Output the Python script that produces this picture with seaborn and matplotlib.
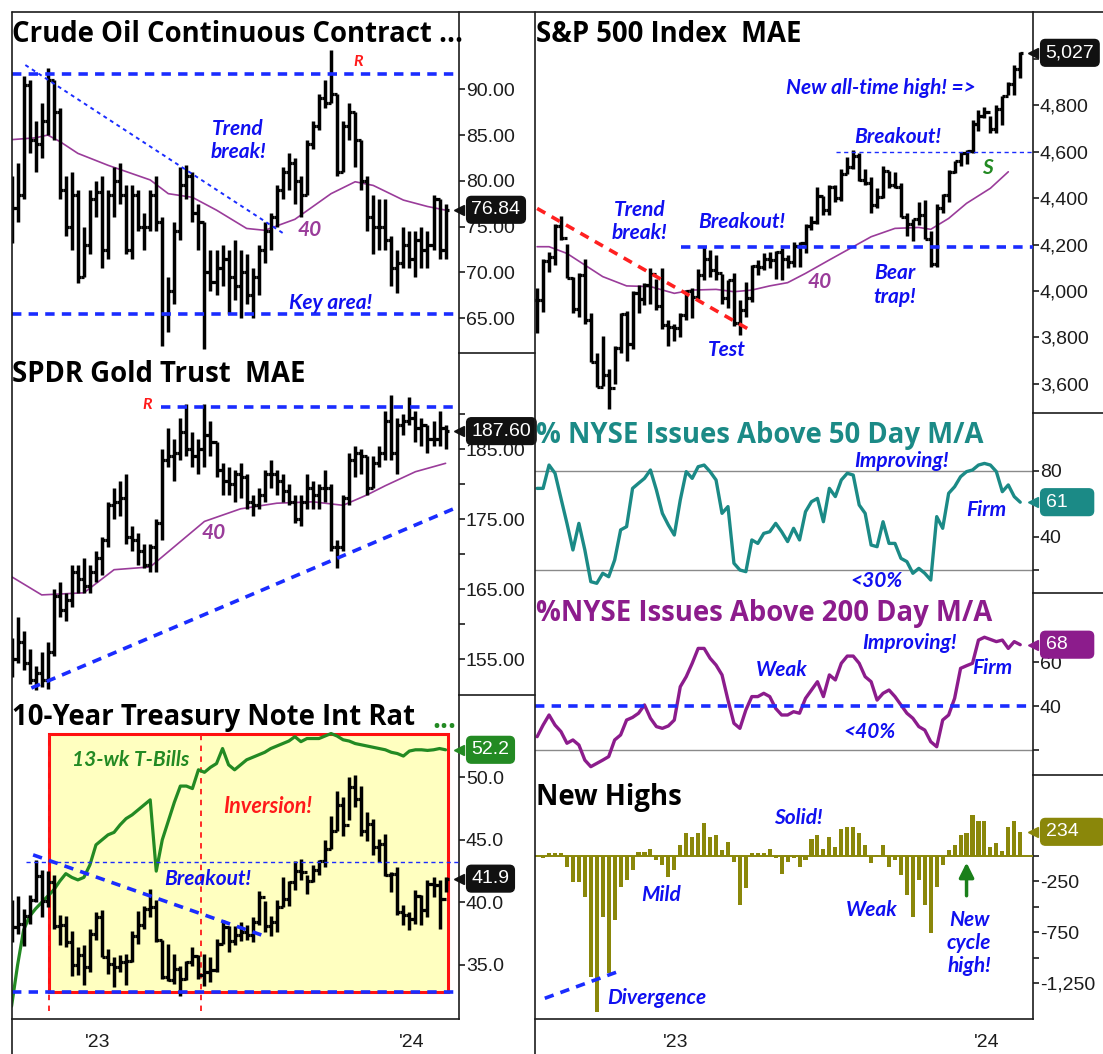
import numpy as np
import pandas as pd
import matplotlib
matplotlib.use("Agg")
import matplotlib.pyplot as plt
import matplotlib.dates as mdates
from matplotlib.lines import Line2D
from matplotlib.patches import Rectangle
import seaborn as sns

# ---------------- data (weekly) ----------------
left_weeks = pd.date_range("2022-09-23", "2024-02-09", freq="W-FRI")    # 73 weeks
right_weeks = pd.date_range("2022-07-22", "2024-02-09", freq="W-FRI")   # 82 weeks

crude_high = [80.5, 82.0, 91.5, 91.0, 86.5, 88.5, 92.3, 91.0, 88.0, 80.5,
              81.0, 79.0, 75.0, 79.0, 80.0, 80.5, 79.0, 81.5, 82.0, 79.5,
              79.5, 79.0, 76.5, 79.0, 80.5, 76.0, 69.5, 75.5, 81.5, 81.7,
              81.0, 77.5, 75.5, 72.5, 72.5, 73.0, 72.5, 73.5, 72.5, 72.0,
              70.5, 73.0, 75.5, 76.5, 79.5, 81.5, 83.0, 82.5, 80.5, 84.5,
              86.5, 89.5, 91.0, 94.3, 89.5, 86.5, 88.5, 87.5, 84.5, 80.5,
              78.5, 78.0, 78.0, 74.0, 72.5, 75.0, 74.5, 74.5, 75.0, 74.5,
              78.5, 78.0, 77.5]
crude_low = [73.2, 75.5, 78.0, 83.0, 81.0, 82.5, 85.0, 84.5, 78.0, 74.0,
             72.5, 68.8, 69.5, 72.0, 76.0, 70.5, 71.5, 76.0, 77.5, 72.0,
             71.5, 74.5, 72.5, 74.5, 74.5, 62.0, 63.5, 66.5, 73.5, 78.0,
             75.5, 72.5, 61.6, 68.0, 67.5, 68.5, 65.5, 67.0, 65.0, 66.5,
             65.0, 67.5, 71.0, 72.5, 75.0, 78.0, 79.0, 77.5, 76.0, 78.5,
             83.5, 85.5, 88.0, 88.5, 80.5, 81.0, 84.5, 81.5, 79.0, 74.5,
             72.0, 72.5, 72.5, 68.5, 67.7, 70.5, 70.5, 69.5, 70.5, 70.5,
             72.5, 71.5, 71.5]
crude_close = [77.0, 78.5, 90.5, 84.5, 84.0, 86.5, 91.0, 87.5, 79.0, 75.0,
               78.5, 69.5, 73.0, 78.0, 78.8, 72.5, 78.5, 80.0, 78.5, 72.5,
               78.5, 75.0, 75.0, 78.5, 75.5, 65.5, 68.0, 74.5, 79.5, 80.5,
               76.5, 75.5, 70.0, 69.0, 70.5, 71.5, 69.5, 68.5, 70.0, 67.5,
               69.5, 72.5, 74.5, 76.0, 79.0, 81.0, 82.0, 80.0, 78.5, 84.0,
               86.0, 89.0, 88.5, 89.5, 81.0, 86.0, 87.5, 84.5, 80.0, 76.0,
               75.0, 75.0, 73.5, 70.5, 71.0, 73.0, 71.5, 73.5, 72.5, 73.0,
               78.0, 72.5, 76.84]
crude_ma_week = [0, 4, 6, 8, 11, 16, 23, 26, 30, 34, 39, 42, 47, 53, 57, 60, 65, 69, 72]
crude_ma = [84.5, 84.7, 85.0, 84.3, 83.0, 81.7, 80.1, 78.6, 78.2, 76.8,
            74.8, 74.6, 75.8, 78.6, 79.9, 79.5, 77.9, 77.2, 76.8]

gold_high = [158.0, 161.0, 159.0, 156.5, 154.0, 156.0, 157.5, 165.0, 166.0, 164.5,
             168.5, 168.5, 169.5, 168.5, 170.5, 172.5, 177.5, 179.5, 180.5, 181.5,
             174.0, 173.0, 171.5, 171.5, 175.0, 185.0, 188.0, 186.5, 189.5, 191.5,
             187.5, 186.5, 191.5, 189.0, 186.0, 183.0, 182.5, 182.0, 183.0, 181.5,
             178.5, 179.5, 182.0, 183.5, 182.0, 181.5, 180.0, 178.5, 178.5, 181.5,
             180.5, 180.0, 182.0, 180.0, 172.0, 178.5, 184.5, 185.5, 185.0, 184.0,
             184.0, 185.5, 190.5, 192.8, 189.5, 190.0, 192.5, 190.5, 189.5, 188.5,
             189.0, 190.5, 188.5]
gold_low = [152.5, 154.5, 153.5, 151.5, 150.6, 151.0, 150.8, 155.5, 161.0, 160.5,
            162.5, 164.5, 164.5, 164.5, 166.0, 167.0, 171.0, 175.0, 175.5, 171.5,
            170.5, 168.5, 168.0, 167.5, 167.5, 172.0, 182.5, 180.5, 183.5, 184.0,
            182.5, 181.5, 182.5, 184.0, 181.0, 178.5, 178.5, 177.5, 178.0, 176.5,
            175.5, 176.5, 177.5, 179.5, 178.5, 177.5, 177.0, 174.5, 174.0, 176.5,
            176.5, 176.5, 177.5, 170.5, 168.0, 170.5, 177.0, 181.0, 181.5, 178.5,
            179.5, 182.5, 183.5, 183.5, 181.5, 187.0, 188.5, 186.0, 185.5, 184.5,
            185.5, 185.5, 185.0]
gold_close = [155.0, 157.5, 154.5, 152.0, 153.0, 152.0, 156.0, 164.0, 162.0, 163.5,
              167.5, 166.5, 165.5, 167.5, 169.5, 172.0, 177.0, 177.5, 178.0, 172.5,
              172.0, 170.5, 168.5, 171.0, 174.5, 183.5, 184.0, 184.5, 187.5, 185.0,
              184.0, 185.0, 187.0, 186.0, 182.0, 180.5, 180.0, 181.5, 181.0, 177.5,
              177.0, 178.5, 181.5, 181.5, 180.5, 179.0, 177.5, 175.0, 177.5, 179.5,
              178.5, 179.5, 179.5, 171.0, 171.0, 178.0, 183.5, 184.5, 184.0, 179.5,
              183.0, 184.5, 189.0, 184.5, 188.5, 189.0, 189.5, 188.0, 188.5, 186.5,
              186.5, 188.0, 187.6]
gold_ma_week = [0, 5, 12, 17, 23, 32, 38, 44, 50, 55, 59, 62, 67, 72]
gold_ma = [166.8, 164.2, 164.5, 167.8, 168.2, 174.7, 176.5, 177.3, 177.5, 177.0,
           178.5, 179.8, 181.8, 183.0]

tnx_high = [40.2, 40.5, 39.5, 40.6, 43.4, 42.6, 42.5, 42.2, 39.0, 38.9,
            37.7, 36.4, 36.6, 37.9, 39.2, 39.4, 36.3, 35.6, 35.8, 35.9,
            37.7, 39.3, 39.7, 41.1, 40.2, 37.0, 36.7, 35.9, 34.9, 35.3,
            36.4, 35.8, 35.9, 35.6, 37.1, 38.6, 38.1, 38.1, 38.4, 38.2,
            38.8, 40.9, 40.1, 38.9, 40.2, 42.0, 41.7, 43.3, 43.5, 42.2,
            43.0, 43.4, 45.0, 46.9, 48.9, 48.4, 50.0, 50.2, 49.3, 47.2,
            46.7, 45.1, 45.5, 42.4, 42.8, 39.8, 39.2, 41.0, 40.6, 41.8,
            42.0, 41.8, 42.0]
tnx_low = [36.8, 37.5, 36.5, 38.3, 40.0, 38.8, 39.6, 37.9, 36.6, 36.4,
           34.1, 34.2, 33.4, 34.4, 37.0, 35.6, 34.3, 33.2, 34.4, 33.4,
           35.2, 36.7, 37.9, 38.8, 36.8, 33.9, 33.7, 33.5, 32.5, 33.8,
           34.9, 33.9, 33.3, 33.6, 34.4, 36.7, 36.0, 36.6, 36.9, 37.0,
           36.8, 38.2, 37.6, 37.3, 37.6, 39.6, 39.7, 41.0, 41.8, 40.7,
           41.6, 42.2, 42.8, 44.3, 45.7, 45.3, 46.6, 47.6, 45.3, 44.9,
           43.8, 43.2, 42.1, 40.8, 39.0, 38.2, 37.8, 38.3, 38.2, 38.8,
           40.4, 37.9, 40.8]
tnx_close = [38.0, 38.3, 38.9, 40.2, 42.1, 40.1, 41.6, 38.1, 38.2, 36.8,
             35.0, 35.8, 34.8, 37.5, 38.8, 35.6, 35.1, 34.8, 35.2, 35.3,
             37.3, 38.2, 39.5, 39.6, 37.0, 34.0, 33.8, 34.7, 33.9, 35.2,
             35.7, 34.2, 34.4, 34.6, 36.7, 38.0, 36.9, 37.4, 37.6, 37.4,
             38.4, 40.4, 38.1, 38.4, 39.6, 40.3, 41.6, 42.5, 42.4, 41.7,
             42.6, 43.3, 44.3, 45.7, 47.8, 46.2, 49.2, 48.3, 45.7, 46.3,
             44.4, 44.7, 42.2, 42.3, 39.2, 39.0, 38.7, 40.5, 39.4, 41.5,
             41.4, 40.3, 41.9]
tbill = [31.7, 35.0, 37.8, 38.9, 39.5, 40.0, 40.5, 41.0, 41.7, 42.3,
         42.0, 41.8, 42.0, 43.0, 44.6, 45.0, 45.4, 45.6, 46.2, 46.7,
         47.0, 47.4, 47.8, 48.2, 42.5, 45.0, 46.5, 48.0, 49.3, 49.3,
         49.1, 50.6, 50.4, 50.8, 51.1, 52.3, 51.0, 50.6, 51.0, 51.4,
         51.6, 51.8, 52.0, 52.3, 52.5, 52.7, 52.9, 53.25, 52.85, 53.1,
         53.1, 53.1, 53.3, 53.5, 53.3, 53.0, 52.9, 52.7, 52.6, 52.5,
         52.4, 52.3, 52.2, 52.0, 51.9, 51.7, 52.1, 52.2, 52.2, 52.15,
         52.2, 52.3, 52.2]

sp_high = [4012, 4140, 4167, 4288, 4325, 4203, 4062, 4077, 4140, 3906,
           3733, 3806, 3665, 3762, 3905, 3912, 4001, 4028, 4034, 4101,
           4052, 4101, 3877, 3859, 3906, 4004, 4015, 4095, 4195, 4176,
           4156, 4075, 4048, 4079, 3963, 4040, 4110, 4133, 4163, 4170,
           4171, 4186, 4155, 4213, 4213, 4291, 4323, 4448, 4409, 4458,
           4456, 4528, 4578, 4607, 4594, 4528, 4490, 4443, 4541, 4518,
           4511, 4467, 4338, 4311, 4385, 4393, 4259, 4374, 4418, 4520,
           4560, 4599, 4609, 4739, 4779, 4793, 4754, 4802, 4842, 4903,
           4975, 5030]
sp_low = [3819, 3911, 4080, 4112, 4218, 4057, 3907, 3886, 3856, 3693,
          3584, 3591, 3491, 3600, 3733, 3698, 3751, 3906, 3938, 3943,
          3919, 3838, 3764, 3783, 3802, 3877, 3885, 3966, 4049, 4061,
          4048, 3944, 3928, 3847, 3809, 3889, 3951, 4069, 4090, 4098,
          4053, 4048, 4098, 4103, 4103, 4166, 4262, 4291, 4329, 4328,
          4385, 4389, 4503, 4527, 4474, 4456, 4335, 4356, 4403, 4444,
          4446, 4317, 4238, 4216, 4284, 4223, 4104, 4103, 4337, 4385,
          4509, 4537, 4546, 4593, 4688, 4746, 4682, 4683, 4714, 4845,
          4845, 4919]
sp_close = [3962, 4130, 4145, 4280, 4228, 4058, 3924, 4067, 3873, 3693,
            3586, 3640, 3583, 3753, 3901, 3771, 3993, 3965, 4026, 4072,
            3934, 3852, 3845, 3840, 3895, 3999, 3973, 4071, 4136, 4090,
            4079, 3970, 4046, 3862, 3917, 3971, 4109, 4105, 4138, 4134,
            4169, 4136, 4124, 4192, 4205, 4282, 4299, 4410, 4348, 4450,
            4399, 4505, 4536, 4582, 4478, 4464, 4370, 4406, 4516, 4458,
            4450, 4320, 4288, 4309, 4328, 4224, 4117, 4358, 4415, 4514,
            4559, 4595, 4604, 4719, 4755, 4770, 4697, 4784, 4840, 4891,
            4959, 5027]
sp_ma_week = [0, 2, 5, 8, 11, 15, 19, 23, 26, 30, 33, 36, 39, 42, 45, 49, 53,
              56, 60, 64, 66, 69, 72, 76, 79]
sp_ma = [4191, 4191, 4162, 4112, 4062, 4022, 4019, 3990, 4004, 4007, 3997, 4004,
         4022, 4036, 4076, 4134, 4191, 4234, 4270, 4274, 4266, 4313, 4378, 4443, 4514]

nyse50 = [69.4, 69.4, 83.6, 78.6, 63.3, 48.1, 31.9, 48.1, 31.9, 12.6,
          11.6, 17.7, 15.6, 25.8, 44.1, 46.1, 69.4, 72.5, 75.5, 80.6,
          68.4, 54.2, 47.1, 41.0, 62.3, 79.6, 75.5, 82.6, 83.6, 79.6,
          74.5, 54.2, 58.3, 23.8, 19.7, 18.7, 38.0, 35.9, 42.0, 43.0,
          48.1, 43.0, 37.0, 45.1, 38.0, 55.2, 61.3, 63.3, 49.1, 69.4,
          64.4, 74.5, 78.6, 77.5, 59.3, 54.2, 34.9, 33.9, 49.1, 35.9,
          35.9, 26.8, 24.8, 17.7, 20.7, 17.7, 13.6, 52.2, 45.1, 66.4,
          70.4, 76.5, 79.6, 80.6, 83.6, 84.6, 83.6, 79.6, 67.4, 71.5,
          64.4, 61.0]
nyse200 = [26.0, 31.3, 35.9, 31.3, 28.3, 23.0, 24.5, 22.2, 15.3, 12.3,
           13.8, 15.3, 16.9, 24.5, 26.8, 33.6, 34.8, 36.7, 40.5, 34.4,
           30.6, 29.8, 30.9, 33.6, 48.8, 53.4, 59.5, 66.3, 66.3, 61.8,
           58.7, 54.2, 42.7, 32.1, 29.8, 38.2, 44.3, 44.3, 45.8, 44.3,
           38.9, 35.9, 35.9, 37.4, 36.7, 43.5, 47.3, 51.1, 44.3, 54.2,
           51.9, 59.5, 62.8, 62.8, 59.5, 53.4, 51.1, 42.7, 45.8, 47.3,
           44.3, 40.5, 36.7, 34.4, 30.6, 29.0, 23.7, 21.4, 33.6, 35.9,
           43.5, 57.2, 58.4, 59.5, 70.1, 71.4, 70.4, 69.4, 70.1, 66.3,
           69.4, 68.0]
new_highs = [-26, 23, 23, 23, -108, -255, -255, -402, -1186, -1529,
             -598, -1153, -630, -304, -238, -140, 40, 40, 62, -42,
             -91, -206, -140, 105, 219, 187, 219, 317, 187, 203,
             56, 138, -59, -483, -320, 23, 23, 23, 62, -26,
             -183, -59, -26, -108, -42, 160, 203, 62, 187, 89,
             259, 278, 278, 219, 105, -68, 5, 105, -108, -42,
             -190, -385, -598, -238, -483, -755, -304, -91, 56, 105,
             203, 219, 399, 343, 343, 89, 128, 49, 285, 343,
             234]

# ---------------- style ----------------
sns.set_style("white")
plt.rcParams["font.family"] = ["Liberation Sans", "DejaVu Sans"]

BLUE = "#1010f0"
DASH_BLUE = "#1a2cff"
RED = "#ff1a1a"
PURPLE_MA = "#9a3c9a"
TEAL = "#1b8a86"
PURPLE = "#8c1c8c"
OLIVE = "#8a870a"
GREEN = "#238a23"
INK = "#1c1c1c"
TITLE_FONT = ["Open Sans", "DejaVu Sans"]
TITLE_SIZE = 19.8

W, H = 1103, 1054
fig = plt.figure(figsize=(W / 100, H / 100), dpi=100)


def box(x0, y0, x1, y1):
    return [x0 / W, 1 - y1 / H, (x1 - x0) / W, (y1 - y0) / H]


def d(s):
    return mdates.date2num(pd.Timestamp(s))


lx = mdates.date2num(left_weeks)
rx = mdates.date2num(right_weeks)
LXLIM = (d("2022-09-23 12:00"), d("2024-02-24 14:00"))
RXLIM = (d("2022-07-19 12:00"), d("2024-02-24"))

ax_oil = fig.add_axes(box(12, 12, 459, 353))
ax_gold = fig.add_axes(box(12, 353, 459, 695))
ax_tnx = fig.add_axes(box(12, 695, 459, 1019))
ax_sp = fig.add_axes(box(535, 12, 1033, 413))
ax_50 = fig.add_axes(box(535, 413, 1033, 593))
ax_200 = fig.add_axes(box(535, 593, 1033, 775))
ax_nh = fig.add_axes(box(535, 775, 1033, 1019))


def setup(ax, xlim, ylim, major, minor, fmt, bottom=False, hide=()):
    ax.set_xlim(*xlim)
    ax.set_ylim(*ylim)
    ax.set_xlabel("")
    ax.set_ylabel("")
    for s in ["top", "left"]:
        ax.spines[s].set_visible(False)
    ax.spines["right"].set_linewidth(1.2)
    ax.spines["right"].set_color(INK)
    ax.spines["bottom"].set_visible(bottom)
    ax.spines["bottom"].set_linewidth(1.2)
    ax.spines["bottom"].set_color(INK)
    ax.yaxis.tick_right()
    ax.set_yticks(major)
    ax.set_yticklabels(["" if v in hide else fmt(v) for v in major])
    ax.set_yticks(minor, minor=True)
    ax.tick_params(axis="y", which="both", direction="out", length=4, width=1.2,
                   colors=INK, labelsize=14, pad=1)
    if bottom:
        ax.set_xticks([d("2023-01-01"), d("2024-01-01")])
        ax.set_xticklabels(["'23", "'24"])
        qs = ["2022-10-01", "2023-04-01", "2023-07-01", "2023-10-01"]
        if xlim[0] < d("2022-07-01"):
            qs = ["2022-07-01"] + qs
        ax.set_xticks([d(q) for q in qs], minor=True)
        ax.tick_params(axis="x", which="major", direction="out", length=8, width=1.2,
                       colors=INK, labelsize=14, pad=3)
        ax.tick_params(axis="x", which="minor", direction="out", length=3, width=1.2,
                       colors=INK)
    else:
        ax.set_xticks([])
        ax.set_xticks([], minor=True)
    ax.patch.set_alpha(0)


def ohlc(ax, x, hi, lo, cl, tick=3.6):
    hi, lo, cl = np.asarray(hi), np.asarray(lo), np.asarray(cl)
    op = np.r_[cl[0], cl[:-1]]
    ax.vlines(x, lo, hi, color="black", lw=2.5, zorder=4)
    ax.hlines(cl, x, x + tick, color="black", lw=2.3, zorder=4)
    ax.hlines(op, x - tick, x, color="black", lw=2.3, zorder=4)


def tag(ax, val, text, color):
    ax.annotate(text, xy=(1.0, val), xycoords=ax.get_yaxis_transform(),
                xytext=(9, 0), textcoords="offset points", ha="left", va="center",
                color="white", fontsize=14, annotation_clip=False, zorder=10,
                bbox=dict(boxstyle="round,pad=0.25,rounding_size=0.25", fc=color, ec=color))
    ax.plot([1.0], [val], marker="<", ms=7, color=color, transform=ax.get_yaxis_transform(),
            clip_on=False, zorder=10)


def note(ax, x, y, s, color=BLUE, size=15, **kw):
    ax.text(d(x), y, s, color=color, fontsize=size, style="italic", fontweight="bold",
            family="Lato", ha="center", va="center", zorder=6, linespacing=1.2, **kw)


def title(x, y, s, color="black", size=TITLE_SIZE):
    fig.text(x / W, 1 - y / H, s, color=color, fontsize=size, fontweight="bold",
             family=TITLE_FONT, ha="left", va="center")


dash_thick = dict(color=DASH_BLUE, lw=2.6, ls=(0, (2.6, 2.0)), zorder=5)
dash_thin = dict(color=DASH_BLUE, lw=1.0, ls=(0, (3, 2.5)), zorder=5)

# ---------------- Crude oil ----------------
ax = ax_oil
ohlc(ax, lx, crude_high, crude_low, crude_close)
sns.lineplot(x=lx[crude_ma_week], y=crude_ma, ax=ax, color=PURPLE_MA, lw=1.2, zorder=3)
ax.axhline(91.7, **dash_thick)
ax.axhline(65.5, **dash_thick)
ax.plot([d("2022-10-09"), d("2023-08-04")], [92.65, 74.3], color=DASH_BLUE, lw=1.4,
        ls=(0, (2, 2)), zorder=5)
note(ax, "2023-10-31", 93.0, "R", color=RED, size=11.5)
note(ax, "2023-06-13", 84.4, "Trend\nbreak!")
note(ax, "2023-09-04", 74.6, "40", color=PURPLE_MA)
note(ax, "2023-09-29", 66.7, "Key area!")
setup(ax, LXLIM, (61.2, 98.44), [65, 70, 75, 80, 85, 90], [], lambda v: f"{v:.2f}")
tag(ax, 76.84, "76.84", "#111111")

# ---------------- Gold ----------------
ax = ax_gold
ohlc(ax, lx, gold_high, gold_low, gold_close)
sns.lineplot(x=lx[gold_ma_week], y=gold_ma, ax=ax, color=PURPLE_MA, lw=1.2, zorder=3)
ax.hlines(191.0, d("2023-03-16"), LXLIM[1], **dash_thick)
ax.plot([d("2022-10-16"), d("2024-02-24")], [150.9, 176.8], **dash_thick)
note(ax, "2023-02-28", 191.3, "R", color=RED, size=11.5)
note(ax, "2023-05-16", 173.1, "40", color=PURPLE_MA)
setup(ax, LXLIM, (149.9, 198.76), [155, 165, 175, 185], [160, 170, 180, 190],
      lambda v: f"{v:.2f}")
tag(ax, 187.6, "187.60", "#111111")

# ---------------- 10-year yield ----------------
ax = ax_tnx
ax.add_patch(Rectangle((d("2022-11-06"), 32.8), d("2024-02-12") - d("2022-11-06"), 53.5 - 32.8,
                       fc="#ffffc0", ec="#ff1010", lw=2.2, zorder=1))
for v in ["2022-11-06", "2023-05-01"]:
    ax.plot([d(v), d(v)], [31.3, 53.5], color=RED, lw=1.3, ls=(0, (3, 3)), zorder=2)
sns.lineplot(x=lx, y=tbill, ax=ax, color=GREEN, lw=2.3, zorder=3)
ohlc(ax, lx, tnx_high, tnx_low, tnx_close)
ax.axhline(32.8, **dash_thick)
ax.hlines(43.26, d("2022-10-10"), LXLIM[1], **dash_thin)
ax.plot([d("2022-10-18"), d("2023-07-10")], [43.8, 37.4], **dash_thick)
note(ax, "2023-02-08", 51.4, "13-wk T-Bills", color=GREEN)
note(ax, "2023-07-18", 47.65, "Inversion!", color=RED, size=15.5)
note(ax, "2023-05-09", 41.85, "Breakout!")
setup(ax, LXLIM, (30.68, 56.58), [35, 40, 45, 50], [], lambda v: f"{v:.1f}", bottom=True)
tag(ax, 52.2, "52.2", GREEN)
tag(ax, 41.9, "41.9", "#111111")

# ---------------- S&P 500 ----------------
ax = ax_sp
ohlc(ax, rx, sp_high, sp_low, sp_close)
sns.lineplot(x=rx[sp_ma_week], y=sp_ma, ax=ax, color=PURPLE_MA, lw=1.2, zorder=3)
ax.plot([d("2022-07-22"), d("2023-04-01")], [4356, 3825], color="#ff2020", lw=2.6,
        ls=(0, (2.6, 2.0)), zorder=5)
ax.hlines(4190, d("2023-01-07"), RXLIM[1], **dash_thick)
ax.hlines(4600, d("2023-07-08"), RXLIM[1], **dash_thin)
note(ax, "2022-11-19", 4299, "Trend\nbreak!")
note(ax, "2023-03-19", 4299, "Breakout!")
note(ax, "2023-03-02", 3746, "Test")
note(ax, "2023-06-19", 4040, "40", color=PURPLE_MA)
note(ax, "2023-09-15", 4026, "Bear\ntrap!")
note(ax, "2023-09-18", 4665, "Breakout!")
note(ax, "2023-08-29", 4874, "New all-time high! =>")
note(ax, "2024-01-02", 4529, "S", color=GREEN)
setup(ax, RXLIM, (3474, 5203), [3600, 3800, 4000, 4200, 4400, 4600, 4800, 5000], [],
      lambda v: f"{v:,}", hide=(5000,))
tag(ax, 5027, "5,027", "#111111")

# ---------------- % above 50 dma ----------------
ax = ax_50
ax.axhline(80, color="#8a8a8a", lw=1.0, zorder=2)
ax.axhline(20, color="#8a8a8a", lw=1.0, zorder=2)
sns.lineplot(x=rx, y=nyse50, ax=ax, color=TEAL, lw=2.4, zorder=3)
note(ax, "2023-09-23", 86.1, "Improving!")
note(ax, "2023-12-31", 56.3, "Firm")
note(ax, "2023-08-24", 13.0, "<30%")
setup(ax, RXLIM, (5.7, 115.3), [40, 60, 80], [20], lambda v: f"{v}", hide=(60,))
tag(ax, 61, "61    ", TEAL)

# ---------------- % above 200 dma ----------------
ax = ax_200
ax.axhline(20, color="#8a8a8a", lw=1.0, zorder=2)
ax.axhline(40, **dash_thick)
sns.lineplot(x=rx, y=nyse200, ax=ax, color=PURPLE, lw=2.4, zorder=3)
note(ax, "2023-10-02", 68.6, "Improving!")
note(ax, "2023-05-05", 56.4, "Weak")
note(ax, "2024-01-07", 57.2, "Firm")
note(ax, "2023-08-16", 28.3, "<40%")
setup(ax, RXLIM, (8.5, 91.6), [40, 60], [20], lambda v: f"{v}")
tag(ax, 68, "68    ", PURPLE)

# ---------------- New highs ----------------
ax = ax_nh
ax.bar(rx[1:], new_highs, width=4.8, color=OLIVE, lw=0, zorder=3)
ax.axhline(0, color=OLIVE, lw=1.4, zorder=3)
ax.plot([d("2022-07-31"), d("2022-10-30")], [-1398, -1121], **dash_thick)
note(ax, "2022-12-10", -1392, "Divergence")
note(ax, "2022-12-15", -385, "Mild")
note(ax, "2023-05-25", 367, "Solid!")
note(ax, "2023-08-19", -532, "Weak")
note(ax, "2023-12-11", -856, "New\ncycle\nhigh!")
ax.annotate("", xy=(d("2023-12-08"), -40), xytext=(d("2023-12-08"), -420),
            arrowprops=dict(arrowstyle="-|>", color="#1a7f1a", lw=2.5, mutation_scale=22),
            zorder=6)
setup(ax, RXLIM, (-1601, 791), [-250, -750, -1250], [0, -500, -1000],
      lambda v: f"{v:,}", bottom=True)
tag(ax, 234, "234    ", OLIVE)

# ---------------- titles ----------------
title(12, 34, "Crude Oil Continuous Contract ...")
title(12, 374, "SPDR Gold Trust  MAE")
title(12, 718, "10-Year Treasury Note Int Rat")
fig.text(432 / W, 1 - 720 / H, "...", color=GREEN, fontsize=TITLE_SIZE, fontweight="bold",
         family=TITLE_FONT, ha="left", va="center")
title(536, 34, "S&P 500 Index  MAE")
title(536, 436, "% NYSE Issues Above 50 Day M/A", color=TEAL)
title(536, 614, "%NYSE Issues Above 200 Day M/A", color=PURPLE)
title(536, 797, "New Highs")

# ---------------- frame lines ----------------


def fline(x0, y0, x1, y1, lw=1.2):
    fig.add_artist(Line2D([x0 / W, x1 / W], [1 - y0 / H, 1 - y1 / H], color=INK, lw=lw,
                          transform=fig.transFigure))


fline(12, 12, 1103, 12)
fline(12, 12, 12, 1054)
fline(535, 12, 535, 1054)
for y in [353, 695]:
    fline(459, y, 535, y)
for y in [413, 593, 775]:
    fline(1033, y, 1103, y)

fig.savefig("out.png", dpi=100, facecolor="white")
